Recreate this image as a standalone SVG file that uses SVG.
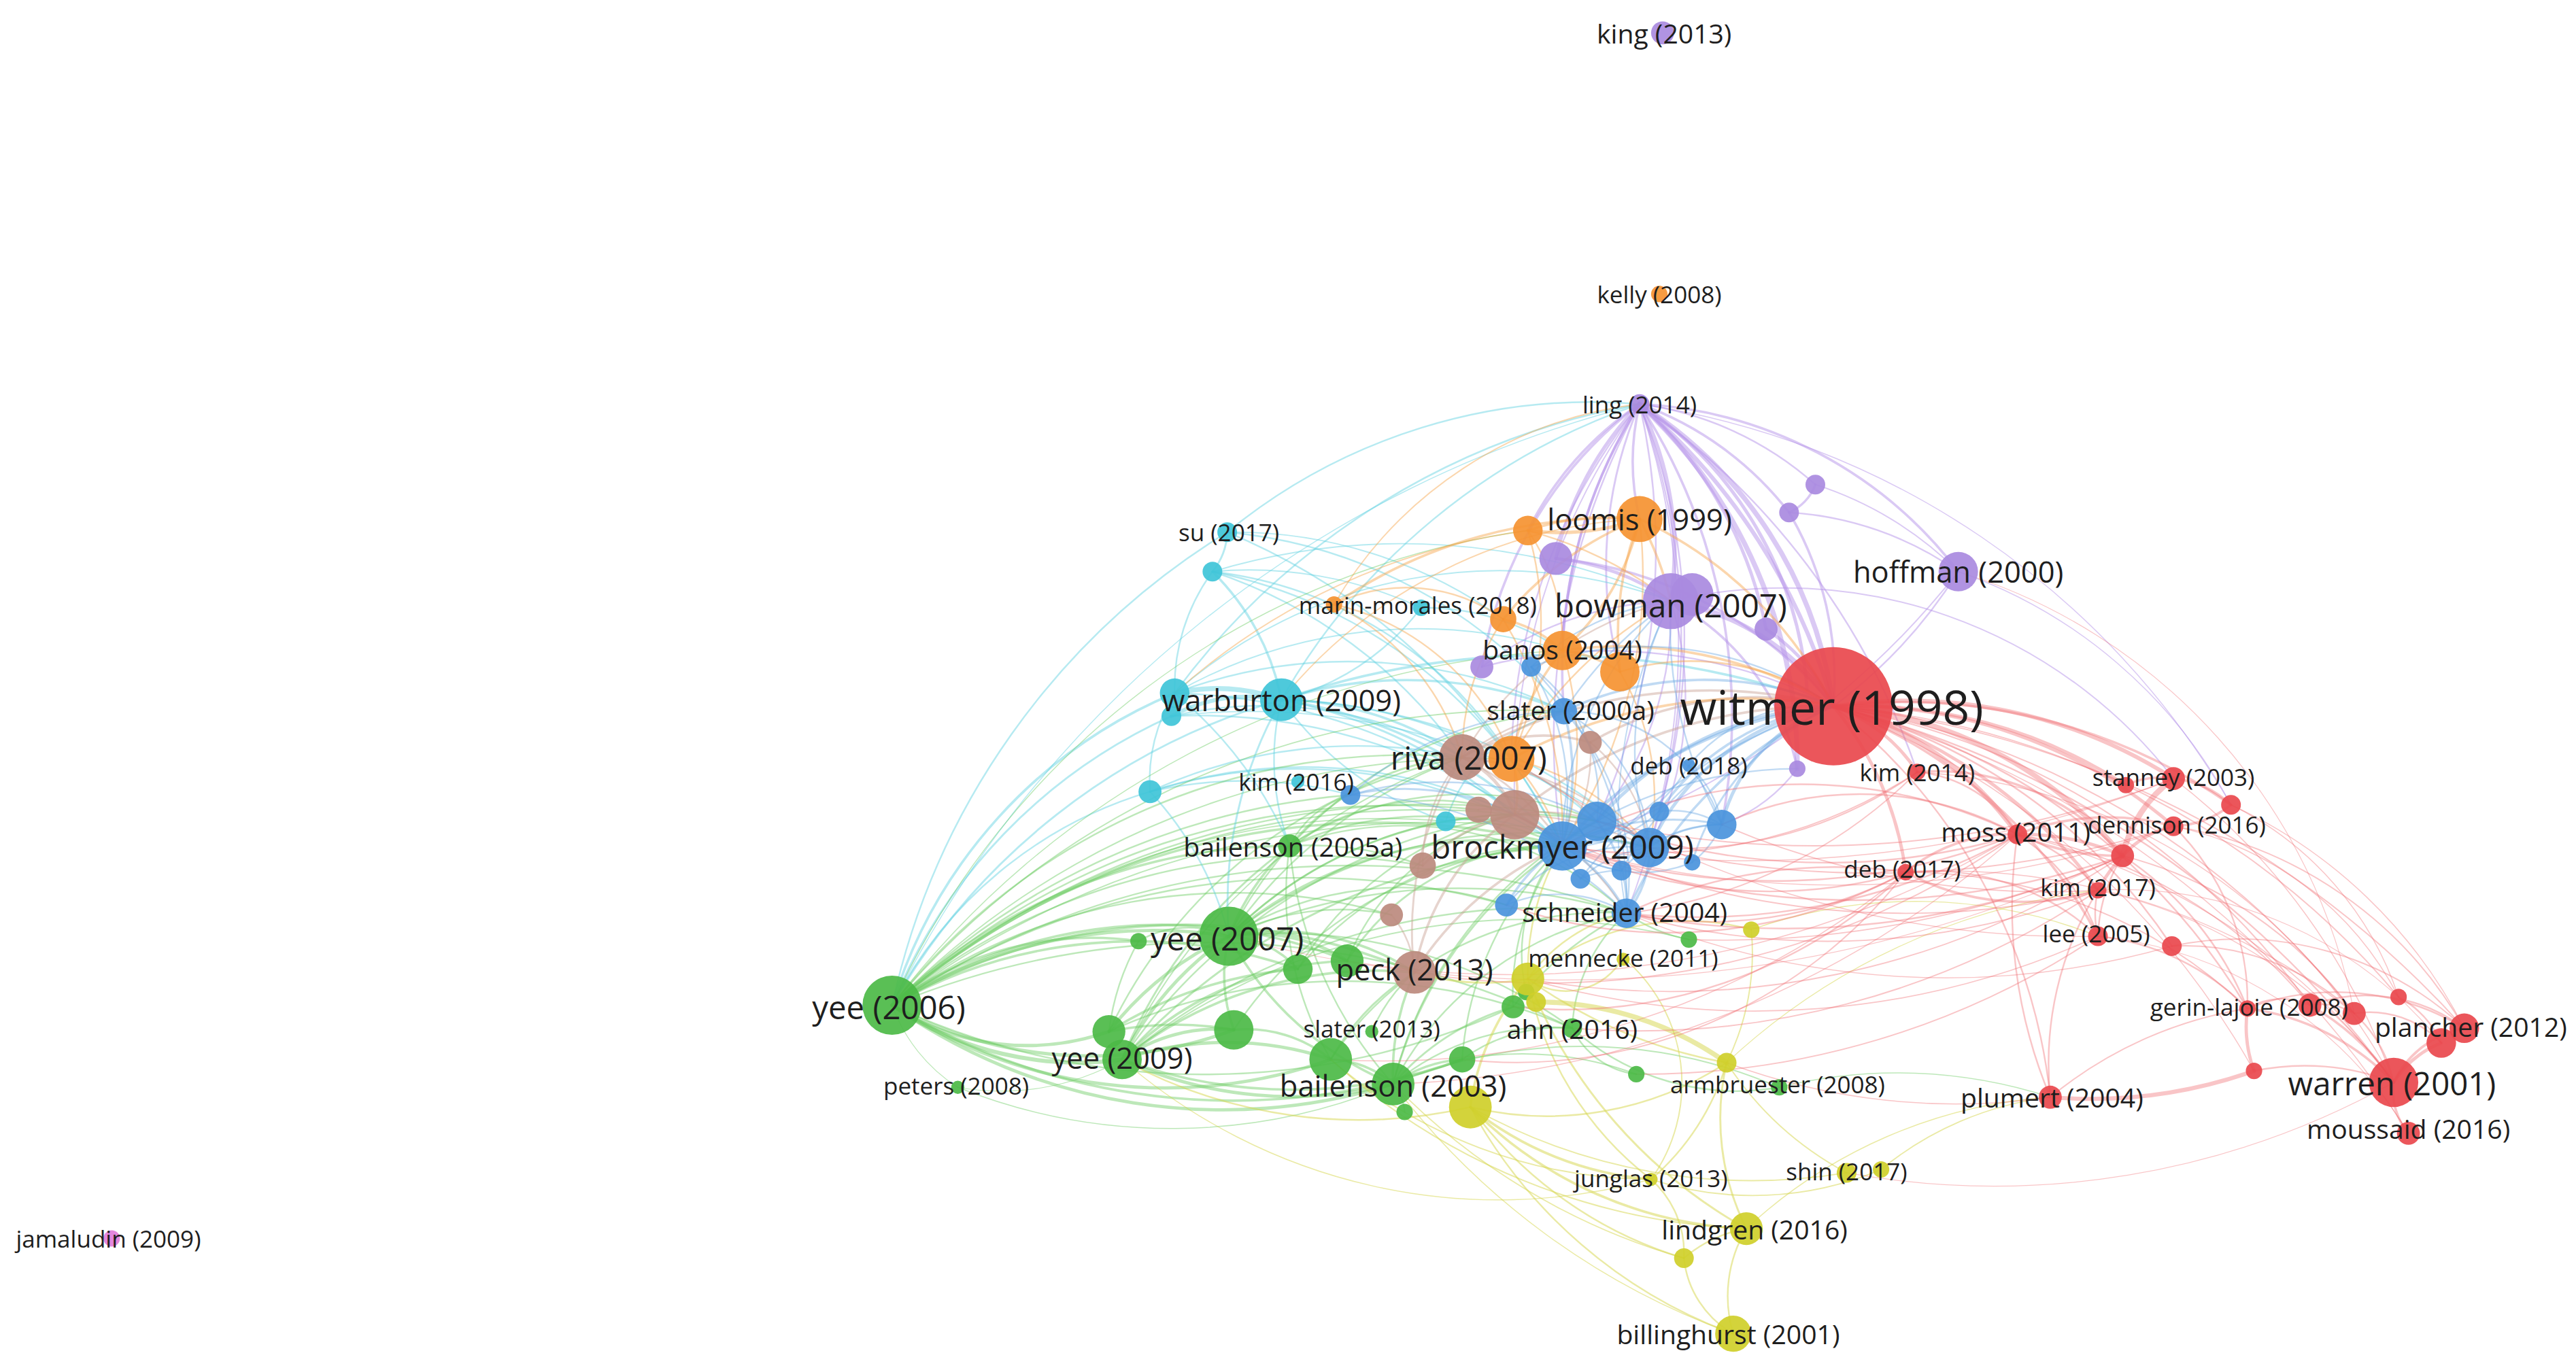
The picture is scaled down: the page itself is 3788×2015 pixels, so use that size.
<svg xmlns="http://www.w3.org/2000/svg" width="3788" height="2015" viewBox="0 0 3788 2015">
<style>
path{fill:none;stroke-linecap:round}
.p{stroke:#b693ea;stroke-opacity:.5}
.o{stroke:#f6a54a;stroke-opacity:.45}
.b{stroke:#6aa6e3;stroke-opacity:.42}
.c{stroke:#5dd0e0;stroke-opacity:.45}
.n{stroke:#c79f93;stroke-opacity:.45}
.g{stroke:#6ccb64;stroke-opacity:.45}
.y{stroke:#d6d64a;stroke-opacity:.5}
.r{stroke:#ef6f72;stroke-opacity:.4}
circle{fill-opacity:.92}
.cp{fill:#a98ae0}.co{fill:#f59331}.cb{fill:#4a94dc}.cc{fill:#3fc4d8}.cn{fill:#bc8a7e}.cg{fill:#4cba46}.cy{fill:#cfcf2a}.cr{fill:#e9484d}.ck{fill:#e27cd9}
text{font-family:"Open Sans","Noto Sans","Liberation Sans",sans-serif;fill:#1e1e1e;text-anchor:middle;dominant-baseline:central}
.s{font-size:14.5px}.m{font-size:16.2px}.l{font-size:18px}.xl{font-size:19.6px}.xxl{font-size:28.8px}
</style>
<rect width="3788" height="2015" fill="#fff"/>
<g transform="scale(2.41582)">
<g id="connectors">
<path class="p" stroke-width="3" d="M998 246A260 260 0 0 1 1116 430"/>
<path class="p" stroke-width="2.5" d="M998 246A380 380 0 0 1 1116 430"/>
<path class="p" stroke-width="2" d="M998 246A230 230 0 0 1 1100 420"/>
<path class="p" stroke-width="2" d="M998 246A250 250 0 0 1 1075 383"/>
<path class="p" stroke-width="1.5" d="M998 246A200 200 0 0 1 1089 312"/>
<path class="p" stroke-width="1.5" d="M998 246A260 260 0 0 1 1192 348"/>
<path class="p" stroke-width="2.5" d="M998 246A200 200 0 0 1 1017 366"/>
<path class="p" stroke-width="3" d="M998 246A300 300 0 0 1 1094 468"/>
<path class="p" stroke-width="1.5" d="M998 246A350 350 0 0 1 1048 502"/>
<path class="p" d="M998 246A420 420 0 0 1 1004 516"/>
<path class="p" d="M998 246A400 400 0 0 1 972 500"/>
<path class="p" stroke-width="0.8" d="M998 246A450 450 0 0 1 990 556"/>
<path class="p" d="M998 246A380 380 0 0 1 1010 494"/>
<path class="p" d="M998 246A450 450 0 0 1 1167 470"/>
<path class="p" d="M998 246A200 200 0 0 1 1105 295"/>
<path class="p" stroke-width="2" d="M947 340A200 200 0 0 1 998 246"/>
<path class="p" stroke-width="1.5" d="M930 323A200 200 0 0 1 998 246"/>
<path class="p" stroke-width="1.5" d="M902 406A250 250 0 0 1 998 246"/>
<path class="p" stroke-width="1.5" d="M951 396A300 300 0 0 1 998 246"/>
<path class="p" stroke-width="1.5" d="M952 433A300 300 0 0 1 998 246"/>
<path class="p" d="M951 515A420 420 0 0 1 998 246"/>
<path class="p" stroke-width="0.8" d="M922 496A400 400 0 0 1 998 246"/>
<path class="p" d="M920 462A350 350 0 0 1 998 246"/>
<path class="p" stroke-width="1.5" d="M998 316A150 150 0 0 1 998 246"/>
<path class="p" stroke-width="1.2" d="M986 409A250 250 0 0 1 998 246"/>
<path class="p" stroke-width="1.5" d="M1105 295A30 30 0 0 1 1089 312"/>
<path class="p" stroke-width="1.5" d="M1089 312A200 200 0 0 1 1116 430"/>
<path class="p" d="M1089 312A200 200 0 0 1 1192 348"/>
<path class="p" stroke-width="0.8" d="M1105 295A220 220 0 0 1 1192 348"/>
<path class="p" stroke-width="3" d="M1017 366A150 150 0 0 1 1116 430"/>
<path class="p" stroke-width="1.5" d="M1017 366A150 150 0 0 1 1094 468"/>
<path class="p" stroke-width="2" d="M947 340A150 150 0 0 1 1017 366"/>
<path class="p" stroke-width="1.5" d="M947 340A250 250 0 0 1 1116 430"/>
<path class="p" d="M902 406A300 300 0 0 1 1116 430"/>
<path class="p" d="M1017 366A200 200 0 0 1 1004 516"/>
<path class="p" d="M1017 366A200 200 0 0 1 972 500"/>
<path class="p" d="M1192 348A300 300 0 0 1 1116 430"/>
<path class="p" stroke-width="0.8" d="M1192 348A500 500 0 0 1 951 515"/>
<path class="p" d="M902 406A200 200 0 0 1 1017 366"/>
<path class="p" stroke-width="2" d="M1075 383A120 120 0 0 1 1116 430"/>
<path class="p" stroke-width="0.8" d="M1017 366A300 300 0 0 1 1323 474"/>
<path class="p" d="M1094 468A100 100 0 0 1 1048 502"/>
<path class="p" stroke-width="0.6" d="M998 246A500 500 0 0 1 1358 490"/>
<path class="p" stroke-width="0.6" d="M1192 348A300 300 0 0 1 1358 490"/>
<path class="r" stroke-width="0.5" d="M1192 348A350 350 0 0 1 1433 617"/>
<path class="c" d="M747 324A350 350 0 0 1 998 246"/>
<path class="c" d="M715 422A450 450 0 0 1 998 246"/>
<path class="c" d="M780 426A400 400 0 0 1 998 246"/>
<path class="c" stroke-width="0.6" d="M543 612A700 700 0 0 1 998 246"/>
<path class="c" stroke-width="1.2" d="M747 324A40 40 0 0 1 738 348"/>
<path class="c" stroke-width="1.5" d="M738 348A150 150 0 0 1 780 426"/>
<path class="c" d="M715 422A120 120 0 0 1 738 348"/>
<path class="c" stroke-width="2.5" d="M713 436A100 100 0 0 1 780 426"/>
<path class="c" stroke-width="3" d="M715 422A120 120 0 0 1 780 426"/>
<path class="c" stroke-width="1.5" d="M780 426A300 300 0 0 1 951 515"/>
<path class="c" stroke-width="1.5" d="M780 426A200 200 0 0 1 890 461"/>
<path class="c" stroke-width="1.5" d="M780 426A250 250 0 0 1 952 433"/>
<path class="c" stroke-width="1.5" d="M780 426A500 500 0 0 1 1116 430"/>
<path class="c" d="M780 426A350 350 0 0 1 1004 516"/>
<path class="c" d="M780 426A300 300 0 0 1 972 500"/>
<path class="c" d="M700 482A100 100 0 0 1 715 422"/>
<path class="c" d="M738 348A300 300 0 0 1 951 515"/>
<path class="c" d="M747 324A300 300 0 0 1 952 433"/>
<path class="c" d="M747 324A400 400 0 0 1 951 515"/>
<path class="c" d="M865 370A150 150 0 0 1 951 396"/>
<path class="c" d="M865 370A150 150 0 0 1 780 426"/>
<path class="c" d="M700 482A300 300 0 0 1 890 461"/>
<path class="c" d="M700 482A300 300 0 0 1 951 515"/>
<path class="c" d="M700 482A300 300 0 0 1 922 496"/>
<path class="c" d="M880 500A200 200 0 0 1 780 426"/>
<path class="c" d="M880 500A100 100 0 0 1 951 515"/>
<path class="c" d="M880 500A100 100 0 0 1 952 433"/>
<path class="c" d="M713 436A350 350 0 0 1 951 515"/>
<path class="c" d="M713 436A250 250 0 0 1 890 461"/>
<path class="c" d="M738 348A300 300 0 0 1 890 461"/>
<path class="c" d="M715 422A300 300 0 0 1 952 433"/>
<path class="c" stroke-width="0.8" d="M715 422A300 300 0 0 1 951 396"/>
<path class="c" d="M738 348A250 250 0 0 1 920 462"/>
<path class="c" stroke-width="0.8" d="M738 348A250 250 0 0 1 865 370"/>
<path class="c" stroke-width="0.8" d="M747 324A280 280 0 0 1 915 377"/>
<path class="c" stroke-width="1.2" d="M780 426A300 300 0 0 1 922 496"/>
<path class="c" d="M715 422A350 350 0 0 1 922 496"/>
<path class="c" stroke-width="0.8" d="M713 436A400 400 0 0 1 1004 516"/>
<path class="c" d="M700 482A250 250 0 0 1 822 484"/>
<path class="c" stroke-width="0.8" d="M715 422A300 300 0 0 1 1017 366"/>
<path class="c" stroke-width="0.8" d="M738 348A400 400 0 0 1 1017 366"/>
<path class="c" stroke-width="1.5" d="M543 612A300 300 0 0 1 715 422"/>
<path class="c" stroke-width="1.2" d="M543 612A330 330 0 0 1 713 436"/>
<path class="c" stroke-width="1.2" d="M543 612A400 400 0 0 1 780 426"/>
<path class="c" d="M543 612A450 450 0 0 1 747 324"/>
<path class="c" d="M543 612A260 260 0 0 1 700 482"/>
<path class="g" d="M543 612A450 450 0 0 1 822 484"/>
<path class="g" stroke-width="2" d="M543 612A300 300 0 0 1 748 570"/>
<path class="g" stroke-width="1.5" d="M543 612A200 200 0 0 1 693 573"/>
<path class="g" stroke-width="1.5" d="M543 612A350 350 0 0 1 785 515"/>
<path class="g" d="M543 612A400 400 0 0 1 890 461"/>
<path class="g" stroke-width="1.5" d="M543 612A450 450 0 0 1 951 515"/>
<path class="g" d="M543 612A500 500 0 0 1 922 496"/>
<path class="g" d="M543 612A500 500 0 0 1 972 500"/>
<path class="g" stroke-width="0.8" d="M543 612A500 500 0 0 1 952 433"/>
<path class="g" stroke-width="0.8" d="M543 612A550 550 0 0 1 1004 516"/>
<path class="g" d="M543 612A350 350 0 0 1 847 557"/>
<path class="g" d="M543 612A450 450 0 0 1 900 493"/>
<path class="g" stroke-width="0.8" d="M543 612A500 500 0 0 1 920 462"/>
<path class="g" stroke-width="0.8" d="M543 612A450 450 0 0 1 880 500"/>
<path class="g" d="M543 612A450 450 0 0 1 917 551"/>
<path class="g" stroke-width="0.6" d="M543 612A500 500 0 0 1 930 323"/>
<path class="g" stroke-width="0.6" d="M543 612A550 550 0 0 1 951 396"/>
<path class="g" stroke-width="1.5" d="M543 612A350 350 0 0 1 861 592"/>
<path class="g" stroke-width="1.5" d="M543 612A300 300 0 0 1 790 590"/>
<path class="g" stroke-width="1.5" d="M543 612A300 300 0 0 1 820 585"/>
<path class="g" d="M543 612A500 500 0 0 1 990 556"/>
<path class="g" d="M543 612A500 500 0 0 1 957 626"/>
<path class="g" stroke-width="2" d="M675 628A150 150 0 0 1 543 612"/>
<path class="g" stroke-width="2.5" d="M683 645A200 200 0 0 1 543 612"/>
<path class="g" stroke-width="2" d="M751 627A250 250 0 0 1 543 612"/>
<path class="g" stroke-width="2" d="M810 645A300 300 0 0 1 543 612"/>
<path class="g" stroke-width="2" d="M848 660A350 350 0 0 1 543 612"/>
<path class="g" stroke-width="1.5" d="M890 645A400 400 0 0 1 543 612"/>
<path class="g" d="M921 613A450 450 0 0 1 543 612"/>
<path class="g" stroke-width="0.5" d="M583 662A100 100 0 0 1 543 612"/>
<path class="g" stroke-width="0.5" d="M683 645A150 150 0 0 1 583 662"/>
<path class="g" stroke-width="0.6" d="M848 660A350 350 0 0 1 583 662"/>
<path class="g" d="M543 612A400 400 0 0 1 866 527"/>
<path class="g" stroke-width="2" d="M683 645A200 200 0 0 1 748 570"/>
<path class="g" stroke-width="2" d="M675 628A200 200 0 0 1 748 570"/>
<path class="g" stroke-width="2" d="M683 645A100 100 0 0 1 751 627"/>
<path class="g" stroke-width="2" d="M683 645A200 200 0 0 1 810 645"/>
<path class="g" stroke-width="2" d="M848 660A250 250 0 0 1 683 645"/>
<path class="g" stroke-width="1.2" d="M683 645A300 300 0 0 1 785 515"/>
<path class="g" stroke-width="1.5" d="M683 645A200 200 0 0 1 820 585"/>
<path class="g" stroke-width="1.5" d="M683 645A250 250 0 0 1 861 592"/>
<path class="g" stroke-width="1.2" d="M683 645A400 400 0 0 1 951 515"/>
<path class="g" d="M683 645A350 350 0 0 1 922 496"/>
<path class="g" d="M683 645A400 400 0 0 1 990 556"/>
<path class="g" stroke-width="0.8" d="M683 645A350 350 0 0 1 890 461"/>
<path class="g" stroke-width="1.5" d="M890 645A300 300 0 0 1 683 645"/>
<path class="y" d="M895 674A300 300 0 0 1 683 645"/>
<path class="g" stroke-width="1.5" d="M675 628A250 250 0 0 1 790 590"/>
<path class="g" d="M675 628A300 300 0 0 1 890 461"/>
<path class="g" d="M675 628A350 350 0 0 1 957 626"/>
<path class="g" d="M675 628A150 150 0 0 1 693 573"/>
<path class="g" stroke-width="1.5" d="M675 628A200 200 0 0 1 751 627"/>
<path class="g" stroke-width="1.5" d="M748 570A150 150 0 0 1 785 515"/>
<path class="g" stroke-width="2" d="M748 570A100 100 0 0 1 820 585"/>
<path class="g" stroke-width="1.5" d="M748 570A60 60 0 0 1 790 590"/>
<path class="g" stroke-width="1.5" d="M748 570A150 150 0 0 1 861 592"/>
<path class="g" stroke-width="1.5" d="M748 570A250 250 0 0 1 951 515"/>
<path class="g" stroke-width="1.2" d="M748 570A250 250 0 0 1 922 496"/>
<path class="g" d="M748 570A250 250 0 0 1 972 500"/>
<path class="g" d="M748 570A300 300 0 0 1 1004 516"/>
<path class="g" d="M748 570A250 250 0 0 1 952 433"/>
<path class="g" d="M748 570A200 200 0 0 1 917 551"/>
<path class="g" d="M748 570A150 150 0 0 1 847 557"/>
<path class="g" stroke-width="1.5" d="M751 627A100 100 0 0 1 748 570"/>
<path class="g" d="M693 573A60 60 0 0 1 748 570"/>
<path class="g" stroke-width="1.5" d="M848 660A200 200 0 0 1 748 570"/>
<path class="c" stroke-width="1.2" d="M748 570A250 250 0 0 1 780 426"/>
<path class="c" d="M700 482A200 200 0 0 1 748 570"/>
<path class="g" d="M748 570A300 300 0 0 1 890 461"/>
<path class="g" d="M748 570A350 350 0 0 1 990 556"/>
<path class="g" d="M748 570A300 300 0 0 1 957 626"/>
<path class="g" stroke-width="1.2" d="M785 515A200 200 0 0 1 951 515"/>
<path class="g" stroke-width="1.2" d="M785 515A150 150 0 0 1 890 461"/>
<path class="g" d="M785 515A150 150 0 0 1 922 496"/>
<path class="g" d="M785 515A200 200 0 0 1 972 500"/>
<path class="g" d="M785 515A200 200 0 0 1 990 556"/>
<path class="g" d="M785 515A60 60 0 0 1 822 484"/>
<path class="c" d="M785 515A150 150 0 0 1 780 426"/>
<path class="g" d="M810 645A200 200 0 0 1 785 515"/>
<path class="g" d="M848 660A250 250 0 0 1 785 515"/>
<path class="g" d="M785 515A200 200 0 0 1 866 527"/>
<path class="c" d="M715 422A250 250 0 0 1 785 515"/>
<path class="g" stroke-width="1.5" d="M848 660A80 80 0 0 1 890 645"/>
<path class="g" d="M848 660A30 30 0 0 1 855 677"/>
<path class="g" stroke-width="1.5" d="M848 660A150 150 0 0 1 861 592"/>
<path class="g" stroke-width="1.2" d="M848 660A150 150 0 0 1 921 613"/>
<path class="g" stroke-width="1.2" d="M848 660A250 250 0 0 1 951 515"/>
<path class="g" d="M848 660A200 200 0 0 1 990 556"/>
<path class="g" d="M848 660A250 250 0 0 1 972 500"/>
<path class="g" stroke-width="1.5" d="M810 645A60 60 0 0 1 848 660"/>
<path class="g" d="M848 660A150 150 0 0 1 957 626"/>
<path class="g" stroke-width="1.2" d="M810 645A150 150 0 0 1 861 592"/>
<path class="g" d="M810 645A200 200 0 0 1 990 556"/>
<path class="g" stroke-width="1.5" d="M751 627A80 80 0 0 1 810 645"/>
<path class="g" d="M751 627A250 250 0 0 1 951 515"/>
<path class="g" d="M790 590A200 200 0 0 1 951 515"/>
<path class="g" d="M820 585A150 150 0 0 1 922 496"/>
<path class="g" d="M890 645A200 200 0 0 1 951 515"/>
<path class="g" d="M921 613A150 150 0 0 1 951 515"/>
<path class="g" d="M835 628A100 100 0 0 1 861 592"/>
<path class="g" d="M890 645A100 100 0 0 1 957 626"/>
<path class="g" d="M921 613A200 200 0 0 1 990 556"/>
<path class="g" d="M957 626A100 100 0 0 1 990 556"/>
<path class="g" d="M996 654A50 50 0 0 1 957 626"/>
<path class="g" d="M1083 662A150 150 0 0 1 957 626"/>
<path class="g" d="M1028 572A100 100 0 0 1 990 556"/>
<path class="g" stroke-width="1.2" d="M820 585A150 150 0 0 1 951 515"/>
<path class="g" d="M790 590A200 200 0 0 1 922 496"/>
<path class="g" d="M929 604A100 100 0 0 1 951 515"/>
<path class="g" stroke-width="0.8" d="M683 645A400 400 0 0 1 1028 572"/>
<path class="g" stroke-width="0.8" d="M848 660A300 300 0 0 1 1083 662"/>
<path class="g" stroke-width="0.8" d="M890 645A200 200 0 0 1 996 654"/>
<path class="g" stroke-width="0.6" d="M1083 662A300 300 0 0 1 1248 668"/>
<path class="y" stroke-width="1.5" d="M1005 718A200 200 0 0 1 895 674"/>
<path class="y" stroke-width="1.5" d="M1063 748A250 250 0 0 1 895 674"/>
<path class="y" d="M1025 766A250 250 0 0 1 895 674"/>
<path class="y" d="M1055 812A300 300 0 0 1 895 674"/>
<path class="y" d="M1051 647A200 200 0 0 1 895 674"/>
<path class="y" stroke-width="0.8" d="M1124 714A350 350 0 0 1 895 674"/>
<path class="y" d="M1051 647A300 300 0 0 1 930 596"/>
<path class="y" d="M1005 718A200 200 0 0 1 930 596"/>
<path class="y" stroke-width="1.2" d="M1063 748A300 300 0 0 1 930 596"/>
<path class="y" d="M1051 647A150 150 0 0 1 1005 718"/>
<path class="y" d="M1005 718A60 60 0 0 1 1025 766"/>
<path class="y" d="M1025 766A80 80 0 0 1 1063 748"/>
<path class="y" stroke-width="1.2" d="M1063 748A150 150 0 0 1 1051 647"/>
<path class="y" stroke-width="3" d="M935 610A200 200 0 0 1 1051 647"/>
<path class="y" d="M930 596A150 150 0 0 1 1066 566"/>
<path class="y" stroke-width="0.8" d="M1066 566A150 150 0 0 1 1051 647"/>
<path class="y" stroke-width="0.8" d="M1145 712A200 200 0 0 1 1005 718"/>
<path class="y" d="M1055 812A60 60 0 0 1 1025 766"/>
<path class="y" d="M1055 812A80 80 0 0 1 1063 748"/>
<path class="y" stroke-width="0.8" d="M1063 748A400 400 0 0 1 810 645"/>
<path class="y" stroke-width="0.8" d="M1005 718A300 300 0 0 1 810 645"/>
<path class="y" stroke-width="0.6" d="M1005 718A350 350 0 0 1 683 645"/>
<path class="y" stroke-width="0.7" d="M1025 766A400 400 0 0 1 848 660"/>
<path class="y" stroke-width="0.6" d="M1055 812A450 450 0 0 1 848 660"/>
<path class="y" stroke-width="0.8" d="M1124 714A200 200 0 0 1 1051 647"/>
<path class="y" d="M988 583A40 40 0 0 1 930 596"/>
<path class="y" stroke-width="0.8" d="M988 583A100 100 0 0 1 1005 718"/>
<path class="y" d="M930 596A100 100 0 0 1 990 556"/>
<path class="y" d="M930 596A150 150 0 0 1 951 515"/>
<path class="y" stroke-width="1.2" d="M930 596A150 150 0 0 1 861 592"/>
<path class="y" stroke-width="1.5" d="M895 674A150 150 0 0 1 930 596"/>
<path class="y" stroke-width="0.7" d="M1145 712A200 200 0 0 1 1248 668"/>
<path class="y" stroke-width="0.6" d="M1063 748A300 300 0 0 1 1248 668"/>
<path class="y" stroke-width="0.6" d="M1066 566A300 300 0 0 1 1277 570"/>
<path class="y" stroke-width="0.5" d="M1051 647A400 400 0 0 1 1277 542"/>
<path class="n" stroke-width="2" d="M890 461A60 60 0 0 1 922 496"/>
<path class="n" stroke-width="1.5" d="M900 493A40 40 0 0 1 922 496"/>
<path class="n" stroke-width="2" d="M922 496A100 100 0 0 1 951 515"/>
<path class="n" stroke-width="1.5" d="M890 461A100 100 0 0 1 968 452"/>
<path class="n" stroke-width="1.5" d="M866 527A100 100 0 0 1 922 496"/>
<path class="n" d="M847 557A60 60 0 0 1 861 592"/>
<path class="n" stroke-width="1.5" d="M861 592A150 150 0 0 1 922 496"/>
<path class="n" stroke-width="1.5" d="M890 461A300 300 0 0 1 1116 430"/>
<path class="n" stroke-width="1.5" d="M922 496A300 300 0 0 1 1116 430"/>
<path class="n" stroke-width="1.5" d="M968 452A200 200 0 0 1 1116 430"/>
<path class="n" stroke-width="1.5" d="M861 592A200 200 0 0 1 951 515"/>
<path class="n" stroke-width="1.2" d="M861 592A200 200 0 0 1 890 461"/>
<path class="n" d="M866 527A100 100 0 0 1 890 461"/>
<path class="n" d="M922 496A200 200 0 0 1 1004 516"/>
<path class="n" d="M922 496A100 100 0 0 1 972 500"/>
<path class="n" d="M922 496A150 150 0 0 1 990 556"/>
<path class="n" d="M890 461A150 150 0 0 1 952 433"/>
<path class="n" stroke-width="1.2" d="M890 461A150 150 0 0 1 951 515"/>
<path class="n" d="M890 461A120 120 0 0 1 972 500"/>
<path class="n" d="M890 461A200 200 0 0 1 1004 516"/>
<path class="n" d="M890 461A200 200 0 0 1 1017 366"/>
<path class="n" d="M968 452A100 100 0 0 1 951 515"/>
<path class="n" d="M968 452A100 100 0 0 1 1004 516"/>
<path class="o" stroke-width="2" d="M998 316A150 150 0 0 1 930 323"/>
<path class="o" stroke-width="1.5" d="M930 323A150 150 0 0 1 998 316"/>
<path class="o" stroke-width="1.5" d="M998 316A150 150 0 0 1 951 396"/>
<path class="o" stroke-width="1.5" d="M915 377A200 200 0 0 1 998 316"/>
<path class="o" stroke-width="1.5" d="M812 368A300 300 0 0 1 998 316"/>
<path class="o" d="M812 368A100 100 0 0 1 915 377"/>
<path class="o" d="M812 368A150 150 0 0 1 920 462"/>
<path class="o" stroke-width="1.5" d="M951 396A80 80 0 0 1 986 409"/>
<path class="o" stroke-width="1.5" d="M915 377A80 80 0 0 1 951 396"/>
<path class="o" stroke-width="1.5" d="M920 462A150 150 0 0 1 951 396"/>
<path class="o" d="M890 461A150 150 0 0 1 915 377"/>
<path class="o" stroke-width="1.5" d="M986 409A200 200 0 0 1 998 316"/>
<path class="o" stroke-width="1.5" d="M998 316A250 250 0 0 1 1116 430"/>
<path class="o" stroke-width="1.5" d="M951 396A250 250 0 0 1 1116 430"/>
<path class="o" stroke-width="1.5" d="M920 462A300 300 0 0 1 1116 430"/>
<path class="o" stroke-width="1.2" d="M986 409A150 150 0 0 1 1116 430"/>
<path class="o" d="M930 323A200 200 0 0 1 920 462"/>
<path class="o" d="M812 368A150 150 0 0 1 890 461"/>
<path class="o" d="M930 323A120 120 0 0 1 951 396"/>
<path class="o" d="M998 316A300 300 0 0 1 951 515"/>
<path class="o" d="M986 409A150 150 0 0 1 1004 516"/>
<path class="o" d="M951 396A200 200 0 0 1 951 515"/>
<path class="o" d="M920 462A150 150 0 0 1 951 515"/>
<path class="o" d="M920 462A150 150 0 0 1 1004 516"/>
<path class="o" stroke-width="1.5" d="M920 462A60 60 0 0 1 922 496"/>
<path class="o" d="M915 377A250 250 0 0 1 951 515"/>
<path class="o" stroke-width="1.5" d="M998 316A200 200 0 0 1 1017 366"/>
<path class="o" d="M930 323A250 250 0 0 1 1017 366"/>
<path class="o" stroke-width="0.8" d="M812 368A250 250 0 0 1 998 246"/>
<path class="o" stroke-width="0.8" d="M780 426A300 300 0 0 1 998 316"/>
<path class="o" stroke-width="0.8" d="M715 422A400 400 0 0 1 930 323"/>
<path class="o" d="M920 462A250 250 0 0 1 1017 366"/>
<path class="b" stroke-width="2" d="M951 515A60 60 0 0 1 972 500"/>
<path class="b" stroke-width="2" d="M951 515A100 100 0 0 1 1004 516"/>
<path class="b" stroke-width="1.5" d="M972 500A60 60 0 0 1 1004 516"/>
<path class="b" stroke-width="1.5" d="M951 515A100 100 0 0 1 990 556"/>
<path class="b" stroke-width="1.2" d="M951 515A150 150 0 0 1 1048 502"/>
<path class="b" stroke-width="1.5" d="M917 551A100 100 0 0 1 951 515"/>
<path class="b" d="M917 551A100 100 0 0 1 1004 516"/>
<path class="b" d="M962 535A80 80 0 0 1 1004 516"/>
<path class="b" d="M962 535A80 80 0 0 1 951 515"/>
<path class="b" d="M987 530A80 80 0 0 1 1048 502"/>
<path class="b" d="M987 530A80 80 0 0 1 951 515"/>
<path class="b" stroke-width="1.5" d="M952 433A150 150 0 0 1 951 515"/>
<path class="b" d="M952 433A100 100 0 0 1 1048 502"/>
<path class="b" d="M952 433A150 150 0 0 1 990 556"/>
<path class="b" d="M932 406A100 100 0 0 1 972 500"/>
<path class="b" d="M932 406A150 150 0 0 1 951 515"/>
<path class="b" d="M932 406A200 200 0 0 1 990 556"/>
<path class="b" stroke-width="1.2" d="M822 484A150 150 0 0 1 951 515"/>
<path class="b" d="M822 484A200 200 0 0 1 952 433"/>
<path class="b" d="M822 484A200 200 0 0 1 972 500"/>
<path class="b" d="M822 484A250 250 0 0 1 990 556"/>
<path class="b" d="M1028 466A60 60 0 0 1 1048 502"/>
<path class="b" d="M1028 466A100 100 0 0 1 951 515"/>
<path class="b" d="M1028 466A100 100 0 0 1 1116 430"/>
<path class="b" d="M952 433A100 100 0 0 1 1004 516"/>
<path class="b" stroke-width="1.5" d="M972 500A80 80 0 0 1 990 556"/>
<path class="b" d="M1004 516A80 80 0 0 1 1048 502"/>
<path class="b" d="M1010 494A80 80 0 0 1 951 515"/>
<path class="b" d="M1030 525A80 80 0 0 1 951 515"/>
<path class="b" stroke-width="2" d="M951 515A250 250 0 0 1 1116 430"/>
<path class="b" stroke-width="2" d="M972 500A200 200 0 0 1 1116 430"/>
<path class="b" stroke-width="2" d="M1004 516A150 150 0 0 1 1116 430"/>
<path class="b" stroke-width="2" d="M1048 502A100 100 0 0 1 1116 430"/>
<path class="b" stroke-width="1.5" d="M990 556A250 250 0 0 1 1116 430"/>
<path class="b" stroke-width="1.5" d="M952 433A200 200 0 0 1 1116 430"/>
<path class="b" stroke-width="1.5" d="M1010 494A150 150 0 0 1 1116 430"/>
<path class="b" stroke-width="1.2" d="M1030 525A150 150 0 0 1 1116 430"/>
<path class="b" d="M987 530A200 200 0 0 1 1116 430"/>
<path class="b" d="M962 535A300 300 0 0 1 1116 430"/>
<path class="b" d="M932 406A200 200 0 0 1 1116 430"/>
<path class="b" d="M1048 502A60 60 0 0 1 1030 525"/>
<path class="b" stroke-width="1.5" d="M1004 516A60 60 0 0 1 990 556"/>
<path class="b" d="M1010 494A60 60 0 0 1 1048 502"/>
<path class="b" d="M917 551A80 80 0 0 1 990 556"/>
<path class="b" d="M962 535A60 60 0 0 1 987 530"/>
<path class="b" d="M952 433A250 250 0 0 1 1017 366"/>
<path class="b" d="M932 406A150 150 0 0 1 1017 366"/>
<path class="b" d="M951 515A200 200 0 0 1 1017 366"/>
<path class="b" d="M1004 516A200 200 0 0 1 1017 366"/>
<path class="b" d="M1048 502A250 250 0 0 1 1017 366"/>
<path class="b" stroke-width="0.8" d="M990 556A300 300 0 0 1 1017 366"/>
<path class="b" d="M972 500A250 250 0 0 1 1094 468"/>
<path class="r" d="M951 515A300 300 0 0 1 1228 508"/>
<path class="r" d="M990 556A300 300 0 0 1 1160 531"/>
<path class="r" d="M1048 502A200 200 0 0 1 1228 508"/>
<path class="r" stroke-width="2" d="M1116 430A100 100 0 0 1 1167 470"/>
<path class="r" stroke-width="3" d="M1116 430A200 200 0 0 1 1228 508"/>
<path class="r" stroke-width="2.5" d="M1116 430A300 300 0 0 1 1323 474"/>
<path class="r" stroke-width="2" d="M1116 430A300 300 0 0 1 1294 478"/>
<path class="r" stroke-width="2" d="M1116 430A300 300 0 0 1 1323 503"/>
<path class="r" stroke-width="3" d="M1116 430A250 250 0 0 1 1292 521"/>
<path class="r" stroke-width="2" d="M1116 430A200 200 0 0 1 1160 531"/>
<path class="r" stroke-width="2" d="M1116 430A300 300 0 0 1 1277 542"/>
<path class="r" stroke-width="1.5" d="M1116 430A300 300 0 0 1 1277 570"/>
<path class="r" d="M1116 430A350 350 0 0 1 1322 576"/>
<path class="r" stroke-width="1.5" d="M1116 430A350 350 0 0 1 1358 490"/>
<path class="r" d="M1116 430A400 400 0 0 1 1368 614"/>
<path class="r" stroke-width="0.8" d="M1116 430A450 450 0 0 1 1406 612"/>
<path class="r" stroke-width="0.8" d="M1116 430A500 500 0 0 1 1433 617"/>
<path class="r" stroke-width="0.8" d="M1116 430A500 500 0 0 1 1460 607"/>
<path class="r" stroke-width="0.8" d="M1116 430A600 600 0 0 1 1500 626"/>
<path class="r" d="M1116 430A600 600 0 0 1 1457 659"/>
<path class="r" d="M1116 430A350 350 0 0 1 1248 668"/>
<path class="r" stroke-width="0.6" d="M1116 430A600 600 0 0 1 1466 690"/>
<path class="r" stroke-width="0.6" d="M1116 430A500 500 0 0 1 1372 652"/>
<path class="r" d="M1228 508A400 400 0 0 1 951 515"/>
<path class="r" d="M1228 508A400 400 0 0 1 972 500"/>
<path class="r" d="M1228 508A400 400 0 0 1 990 556"/>
<path class="r" d="M1292 521A500 500 0 0 1 990 556"/>
<path class="r" d="M1292 521A500 500 0 0 1 951 515"/>
<path class="r" d="M1160 531A300 300 0 0 1 917 551"/>
<path class="r" d="M1160 531A300 300 0 0 1 951 515"/>
<path class="r" d="M1160 531A250 250 0 0 1 990 556"/>
<path class="r" d="M1160 531A300 300 0 0 1 921 613"/>
<path class="r" stroke-width="0.8" d="M1167 470A250 250 0 0 1 1004 516"/>
<path class="r" stroke-width="0.8" d="M1167 470A300 300 0 0 1 990 556"/>
<path class="r" stroke-width="0.8" d="M1277 542A450 450 0 0 1 990 556"/>
<path class="r" stroke-width="0.8" d="M1277 542A500 500 0 0 1 922 496"/>
<path class="r" stroke-width="0.6" d="M1228 508A600 600 0 0 1 820 585"/>
<path class="r" stroke-width="0.5" d="M1292 521A800 800 0 0 1 748 570"/>
<path class="r" stroke-width="0.7" d="M1277 570A500 500 0 0 1 930 596"/>
<path class="r" stroke-width="0.6" d="M1322 576A500 500 0 0 1 990 556"/>
<path class="r" stroke-width="0.6" d="M1323 503A600 600 0 0 1 951 515"/>
<path class="r" stroke-width="0.6" d="M1323 474A700 700 0 0 1 951 515"/>
<path class="r" stroke-width="0.8" d="M1277 542A500 500 0 0 1 957 626"/>
<path class="r" stroke-width="0.8" d="M1277 570A500 500 0 0 1 996 654"/>
<path class="r" stroke-width="0.8" d="M1292 521A500 500 0 0 1 930 596"/>
<path class="r" stroke-width="0.8" d="M1160 531A300 300 0 0 1 890 645"/>
<path class="r" stroke-width="0.8" d="M1228 508A500 500 0 0 1 861 592"/>
<path class="r" stroke-width="0.8" d="M1323 503A600 600 0 0 1 1004 516"/>
<path class="r" stroke-width="0.8" d="M1323 474A600 600 0 0 1 972 500"/>
<path class="r" stroke-width="0.8" d="M1167 470A300 300 0 0 1 951 515"/>
<path class="r" stroke-width="0.8" d="M1277 542A500 500 0 0 1 1048 502"/>
<path class="r" stroke-width="0.7" d="M1292 521A600 600 0 0 1 1028 572"/>
<path class="r" stroke-width="0.6" d="M1228 508A600 600 0 0 1 848 660"/>
<path class="r" stroke-width="0.6" d="M1160 531A500 500 0 0 1 810 645"/>
<path class="r" stroke-width="0.6" d="M1277 570A600 600 0 0 1 920 462"/>
<path class="r" stroke-width="2" d="M1228 508A150 150 0 0 1 1292 521"/>
<path class="r" stroke-width="1.5" d="M1292 521A150 150 0 0 1 1228 508"/>
<path class="r" stroke-width="1.5" d="M1228 508A150 150 0 0 1 1323 503"/>
<path class="r" stroke-width="3.5" d="M1292 521A80 80 0 0 1 1323 474"/>
<path class="r" stroke-width="2" d="M1292 521A60 60 0 0 1 1323 503"/>
<path class="r" stroke-width="2" d="M1277 542A100 100 0 0 1 1292 521"/>
<path class="r" stroke-width="1.5" d="M1294 478A50 50 0 0 1 1323 474"/>
<path class="r" stroke-width="1.5" d="M1358 490A60 60 0 0 1 1323 503"/>
<path class="r" stroke-width="1.5" d="M1323 474A60 60 0 0 1 1358 490"/>
<path class="r" stroke-width="1.5" d="M1160 531A100 100 0 0 1 1228 508"/>
<path class="r" stroke-width="1.5" d="M1277 542A150 150 0 0 1 1160 531"/>
<path class="r" d="M1228 508A100 100 0 0 1 1277 542"/>
<path class="r" d="M1277 570A60 60 0 0 1 1277 542"/>
<path class="r" d="M1277 570A100 100 0 0 1 1292 521"/>
<path class="r" d="M1167 470A80 80 0 0 1 1228 508"/>
<path class="r" stroke-width="1.5" d="M1167 470A150 150 0 0 1 1292 521"/>
<path class="r" d="M1160 531A150 150 0 0 1 1277 570"/>
<path class="r" d="M1228 508A120 120 0 0 1 1277 570"/>
<path class="r" d="M1292 521A200 200 0 0 1 1368 614"/>
<path class="r" d="M1323 503A150 150 0 0 1 1368 614"/>
<path class="r" stroke-width="0.8" d="M1323 503A250 250 0 0 1 1500 626"/>
<path class="r" stroke-width="0.6" d="M1323 474A400 400 0 0 1 1457 659"/>
<path class="r" stroke-width="0.8" d="M1228 508A300 300 0 0 1 1406 612"/>
<path class="r" stroke-width="0.8" d="M1292 521A250 250 0 0 1 1433 617"/>
<path class="r" stroke-width="0.6" d="M1358 490A300 300 0 0 1 1500 626"/>
<path class="r" stroke-width="0.6" d="M1358 490A200 200 0 0 1 1460 607"/>
<path class="r" stroke-width="0.6" d="M1167 470A350 350 0 0 1 1457 659"/>
<path class="r" stroke-width="0.6" d="M1277 542A300 300 0 0 1 1457 659"/>
<path class="r" d="M1277 570A150 150 0 0 1 1368 614"/>
<path class="r" stroke-width="0.8" d="M1322 576A150 150 0 0 1 1433 617"/>
<path class="r" stroke-width="0.8" d="M1322 576A200 200 0 0 1 1500 626"/>
<path class="r" stroke-width="0.8" d="M1160 531A300 300 0 0 1 1368 614"/>
<path class="r" stroke-width="0.6" d="M1228 508A400 400 0 0 1 1457 659"/>
<path class="r" stroke-width="0.6" d="M1160 531A400 400 0 0 1 1433 617"/>
<path class="r" d="M1368 614A40 40 0 0 1 1406 612"/>
<path class="r" d="M1406 612A40 40 0 0 1 1433 617"/>
<path class="r" d="M1433 617A60 60 0 0 1 1486 635"/>
<path class="r" d="M1406 612A100 100 0 0 1 1500 626"/>
<path class="r" stroke-width="1.5" d="M1368 614A150 150 0 0 1 1457 659"/>
<path class="r" stroke-width="1.5" d="M1406 612A150 150 0 0 1 1457 659"/>
<path class="r" stroke-width="2" d="M1372 652A80 80 0 0 1 1368 614"/>
<path class="r" stroke-width="2.5" d="M1372 652A300 300 0 0 1 1248 668"/>
<path class="r" d="M1372 652A150 150 0 0 1 1457 659"/>
<path class="r" stroke-width="2" d="M1457 659A60 60 0 0 1 1486 635"/>
<path class="r" stroke-width="1.5" d="M1457 659A60 60 0 0 1 1500 626"/>
<path class="r" stroke-width="1.5" d="M1466 690A40 40 0 0 1 1457 659"/>
<path class="r" d="M1460 607A60 60 0 0 1 1486 635"/>
<path class="r" d="M1433 617A80 80 0 0 1 1457 659"/>
<path class="r" d="M1368 614A150 150 0 0 1 1500 626"/>
<path class="r" d="M1248 668A200 200 0 0 1 1277 542"/>
<path class="r" d="M1248 668A300 300 0 0 1 1228 508"/>
<path class="r" stroke-width="0.8" d="M1248 668A250 250 0 0 1 1368 614"/>
<path class="r" stroke-width="0.5" d="M1277 570A250 250 0 0 1 1466 690"/>
<path class="r" stroke-width="0.6" d="M1323 503A200 200 0 0 1 1460 607"/>
<path class="r" stroke-width="0.5" d="M1277 542A250 250 0 0 1 1486 635"/>
<path class="r" stroke-width="0.6" d="M1248 668A400 400 0 0 1 1051 647"/>
<path class="r" stroke-width="0.5" d="M1457 659A500 500 0 0 1 1124 714"/>
</g>
<g id="node-purple-a"><circle class="cp" cx="1105" cy="295" r="6"/></g>
<g id="node-purple-b"><circle class="cp" cx="1089" cy="312" r="6"/></g>
<g id="node-purple-c"><circle class="cp" cx="947" cy="340" r="10"/></g>
<g id="node-purple-d"><circle class="cp" cx="1075" cy="383" r="7"/></g>
<g id="node-purple-e"><circle class="cp" cx="902" cy="406" r="7"/></g>
<g id="node-purple-f"><circle class="cp" cx="1094" cy="468" r="5"/></g>
<g id="node-orange-a"><circle class="co" cx="930" cy="323" r="9"/></g>
<g id="node-orange-b"><circle class="co" cx="812" cy="368" r="5"/></g>
<g id="node-orange-c"><circle class="co" cx="915" cy="377" r="8"/></g>
<g id="node-orange-e"><circle class="co" cx="986" cy="409" r="12"/></g>
<g id="node-orange-f"><circle class="co" cx="920" cy="462" r="14"/></g>
<g id="node-blue-a"><circle class="cb" cx="932" cy="406" r="6"/></g>
<g id="node-blue-b"><circle class="cb" cx="972" cy="500" r="12"/></g>
<g id="node-blue-c"><circle class="cb" cx="1004" cy="516" r="12"/></g>
<g id="node-blue-d"><circle class="cb" cx="1010" cy="494" r="6"/></g>
<g id="node-blue-e"><circle class="cb" cx="1048" cy="502" r="9"/></g>
<g id="node-blue-f"><circle class="cb" cx="1030" cy="525" r="5"/></g>
<g id="node-blue-g"><circle class="cb" cx="987" cy="530" r="6"/></g>
<g id="node-blue-h"><circle class="cb" cx="962" cy="535" r="6"/></g>
<g id="node-blue-i"><circle class="cb" cx="917" cy="551" r="7"/></g>
<g id="node-blue-j"><circle class="cb" cx="822" cy="484" r="6"/></g>
<g id="node-cyan-a"><circle class="cc" cx="738" cy="348" r="6"/></g>
<g id="node-cyan-b"><circle class="cc" cx="715" cy="422" r="9"/></g>
<g id="node-cyan-c"><circle class="cc" cx="713" cy="436" r="6"/></g>
<g id="node-cyan-d"><circle class="cc" cx="700" cy="482" r="7"/></g>
<g id="node-cyan-e"><circle class="cc" cx="880" cy="500" r="6"/></g>
<g id="node-brown-a"><circle class="cn" cx="968" cy="452" r="7"/></g>
<g id="node-brown-b"><circle class="cn" cx="922" cy="496" r="15"/></g>
<g id="node-brown-c"><circle class="cn" cx="900" cy="493" r="8"/></g>
<g id="node-brown-d"><circle class="cn" cx="866" cy="527" r="8"/></g>
<g id="node-brown-e"><circle class="cn" cx="847" cy="557" r="7"/></g>
<g id="node-green-a"><circle class="cg" cx="693" cy="573" r="5"/></g>
<g id="node-green-b"><circle class="cg" cx="790" cy="590" r="9"/></g>
<g id="node-green-c"><circle class="cg" cx="820" cy="585" r="10"/></g>
<g id="node-green-d"><circle class="cg" cx="675" cy="628" r="10"/></g>
<g id="node-green-e"><circle class="cg" cx="751" cy="627" r="12"/></g>
<g id="node-green-f"><circle class="cg" cx="810" cy="645" r="13"/></g>
<g id="node-green-g"><circle class="cg" cx="855" cy="677" r="5"/></g>
<g id="node-green-h"><circle class="cg" cx="890" cy="645" r="8"/></g>
<g id="node-green-i"><circle class="cg" cx="921" cy="613" r="7"/></g>
<g id="node-green-j"><circle class="cg" cx="929" cy="604" r="5"/></g>
<g id="node-green-k"><circle class="cg" cx="996" cy="654" r="5"/></g>
<g id="node-green-l"><circle class="cg" cx="1028" cy="572" r="5"/></g>
<g id="node-yellow-a"><circle class="cy" cx="930" cy="596" r="10"/></g>
<g id="node-yellow-b"><circle class="cy" cx="935" cy="610" r="6"/></g>
<g id="node-yellow-c"><circle class="cy" cx="1066" cy="566" r="5"/></g>
<g id="node-yellow-d"><circle class="cy" cx="895" cy="674" r="13"/></g>
<g id="node-yellow-e"><circle class="cy" cx="1051" cy="647" r="6"/></g>
<g id="node-yellow-f"><circle class="cy" cx="1145" cy="712" r="5"/></g>
<g id="node-yellow-g"><circle class="cy" cx="1025" cy="766" r="6"/></g>
<g id="node-red-a"><circle class="cr" cx="1294" cy="478" r="5"/></g>
<g id="node-red-b"><circle class="cr" cx="1358" cy="490" r="6"/></g>
<g id="node-red-c"><circle class="cr" cx="1292" cy="521" r="7"/></g>
<g id="node-red-d"><circle class="cr" cx="1322" cy="576" r="6"/></g>
<g id="node-red-e"><circle class="cr" cx="1406" cy="612" r="7"/></g>
<g id="node-red-f"><circle class="cr" cx="1433" cy="617" r="7"/></g>
<g id="node-red-g"><circle class="cr" cx="1460" cy="607" r="5"/></g>
<g id="node-red-h"><circle class="cr" cx="1486" cy="635" r="9"/></g>
<g id="node-red-i"><circle class="cr" cx="1372" cy="652" r="5"/></g>
<g id="node-king-2013"><circle class="cp" cx="1012" cy="20" r="7"/><text class="m" x="1013" y="20">king (2013)</text></g>
<g id="node-kelly-2008"><circle class="co" cx="1010" cy="179" r="5"/><text class="s" x="1010" y="179">kelly (2008)</text></g>
<g id="node-ling-2014"><circle class="cp" cx="998" cy="246" r="6"/><text class="s" x="998" y="246">ling (2014)</text></g>
<g id="node-su-2017"><circle class="cc" cx="747" cy="324" r="6"/><text class="s" x="748" y="324">su (2017)</text></g>
<g id="node-marin-morales-2018"><circle class="cc" cx="865" cy="370" r="5"/><text class="s" x="863" y="368">marin-morales (2018)</text></g>
<g id="node-kim-2016"><circle class="cc" cx="790" cy="476" r="4"/><text class="s" x="789" y="476">kim (2016)</text></g>
<g id="node-deb-2018"><circle class="cb" cx="1028" cy="466" r="4"/><text class="s" x="1028" y="466">deb (2018)</text></g>
<g id="node-bailenson-2005a"><circle class="cg" cx="785" cy="515" r="7"/><text class="m" x="787" y="515">bailenson (2005a)</text></g>
<g id="node-mennecke-2011"><circle class="cy" cx="988" cy="584" r="4"/><text class="s" x="988" y="583">mennecke (2011)</text></g>
<g id="node-slater-2013"><circle class="cg" cx="835" cy="628" r="4"/><text class="s" x="835" y="626">slater (2013)</text></g>
<g id="node-ahn-2016"><circle class="cg" cx="957" cy="626" r="6"/><text class="m" x="957" y="626">ahn (2016)</text></g>
<g id="node-peters-2008"><circle class="cg" cx="583" cy="662" r="4"/><text class="s" x="582" y="661">peters (2008)</text></g>
<g id="node-armbruester-2008"><circle class="cg" cx="1083" cy="662" r="5"/><text class="s" x="1082" y="660">armbruester (2008)</text></g>
<g id="node-junglas-2013"><circle class="cy" cx="1005" cy="718" r="4"/><text class="s" x="1005" y="717">junglas (2013)</text></g>
<g id="node-shin-2017"><circle class="cy" cx="1124" cy="714" r="6"/><text class="s" x="1124" y="713">shin (2017)</text></g>
<g id="node-lindgren-2016"><circle class="cy" cx="1063" cy="748" r="10"/><text class="m" x="1068" y="748">lindgren (2016)</text></g>
<g id="node-billinghurst-2001"><circle class="cy" cx="1055" cy="812" r="11"/><text class="m" x="1052" y="812">billinghurst (2001)</text></g>
<g id="node-jamaludin-2009"><circle class="ck" cx="68" cy="754" r="5"/><text class="s" x="66" y="754">jamaludin (2009)</text></g>
<g id="node-kim-2014"><circle class="cr" cx="1167" cy="470" r="5"/><text class="s" x="1167" y="470">kim (2014)</text></g>
<g id="node-stanney-2003"><circle class="cr" cx="1323" cy="474" r="7"/><text class="s" x="1323" y="473">stanney (2003)</text></g>
<g id="node-dennison-2016"><circle class="cr" cx="1323" cy="503" r="6"/><text class="s" x="1325" y="502">dennison (2016)</text></g>
<g id="node-moss-2011"><circle class="cr" cx="1228" cy="508" r="6"/><text class="m" x="1227" y="506">moss (2011)</text></g>
<g id="node-deb-2017"><circle class="cr" cx="1160" cy="531" r="5"/><text class="s" x="1158" y="529">deb (2017)</text></g>
<g id="node-kim-2017"><circle class="cr" cx="1277" cy="542" r="5"/><text class="s" x="1277" y="540">kim (2017)</text></g>
<g id="node-lee-2005"><circle class="cr" cx="1277" cy="570" r="6"/><text class="s" x="1276" y="568">lee (2005)</text></g>
<g id="node-gerin-lajoie-2008"><circle class="cr" cx="1368" cy="614" r="5"/><text class="s" x="1369" y="613">gerin-lajoie (2008)</text></g>
<g id="node-plancher-2012"><circle class="cr" cx="1500" cy="626" r="9"/><text class="m" x="1504" y="625">plancher (2012)</text></g>
<g id="node-plumert-2004"><circle class="cr" cx="1248" cy="668" r="7"/><text class="m" x="1249" y="668">plumert (2004)</text></g>
<g id="node-moussaid-2016"><circle class="cr" cx="1466" cy="690" r="7"/><text class="m" x="1466" y="687">moussaid (2016)</text></g>
<g id="node-warren-2001"><circle class="cr" cx="1457" cy="659" r="15"/><text class="xl" x="1456" y="659">warren (2001)</text></g>
<g id="node-slater-2000a"><circle class="cb" cx="952" cy="433" r="8"/><text class="m" x="956" y="432">slater (2000a)</text></g>
<g id="node-banos-2004"><circle class="co" cx="951" cy="396" r="12"/><text class="m" x="951" y="395">banos (2004)</text></g>
<g id="node-schneider-2004"><circle class="cb" cx="990" cy="556" r="9"/><text class="m" x="989" y="555">schneider (2004)</text></g>
<g id="node-hoffman-2000"><circle class="cp" cx="1192" cy="348" r="12"/><text class="l" x="1192" y="348">hoffman (2000)</text></g>
<g id="node-loomis-1999"><circle class="co" cx="998" cy="316" r="14"/><text class="l" x="998" y="316">loomis (1999)</text></g>
<g id="node-bowman-2007"><circle class="cp" cx="1030" cy="362" r="13"/><circle class="cp" cx="1017" cy="366" r="17"/><text class="xl" x="1017" y="368">bowman (2007)</text></g>
<g id="node-warburton-2009"><circle class="cc" cx="780" cy="426" r="13"/><text class="l" x="780" y="426">warburton (2009)</text></g>
<g id="node-riva-2007"><circle class="cn" cx="890" cy="461" r="14"/><text class="xl" x="894" y="461">riva (2007)</text></g>
<g id="node-brockmyer-2009"><circle class="cb" cx="951" cy="515" r="15"/><text class="xl" x="951" y="515">brockmyer (2009)</text></g>
<g id="node-yee-2007"><circle class="cg" cx="748" cy="570" r="18"/><text class="xl" x="747" y="571">yee (2007)</text></g>
<g id="node-peck-2013"><circle class="cn" cx="861" cy="592" r="13"/><text class="l" x="861" y="590">peck (2013)</text></g>
<g id="node-yee-2006"><circle class="cg" cx="543" cy="612" r="18"/><text class="xl" x="541" y="613">yee (2006)</text></g>
<g id="node-yee-2009"><circle class="cg" cx="683" cy="645" r="12"/><text class="l" x="683" y="644">yee (2009)</text></g>
<g id="node-bailenson-2003"><circle class="cg" cx="848" cy="660" r="13"/><text class="l" x="848" y="661">bailenson (2003)</text></g>
<g id="node-witmer-1998"><circle class="cr" cx="1116" cy="430" r="36"/><text class="xxl" x="1115" y="430">witmer (1998)</text></g>
</g>
</svg>
